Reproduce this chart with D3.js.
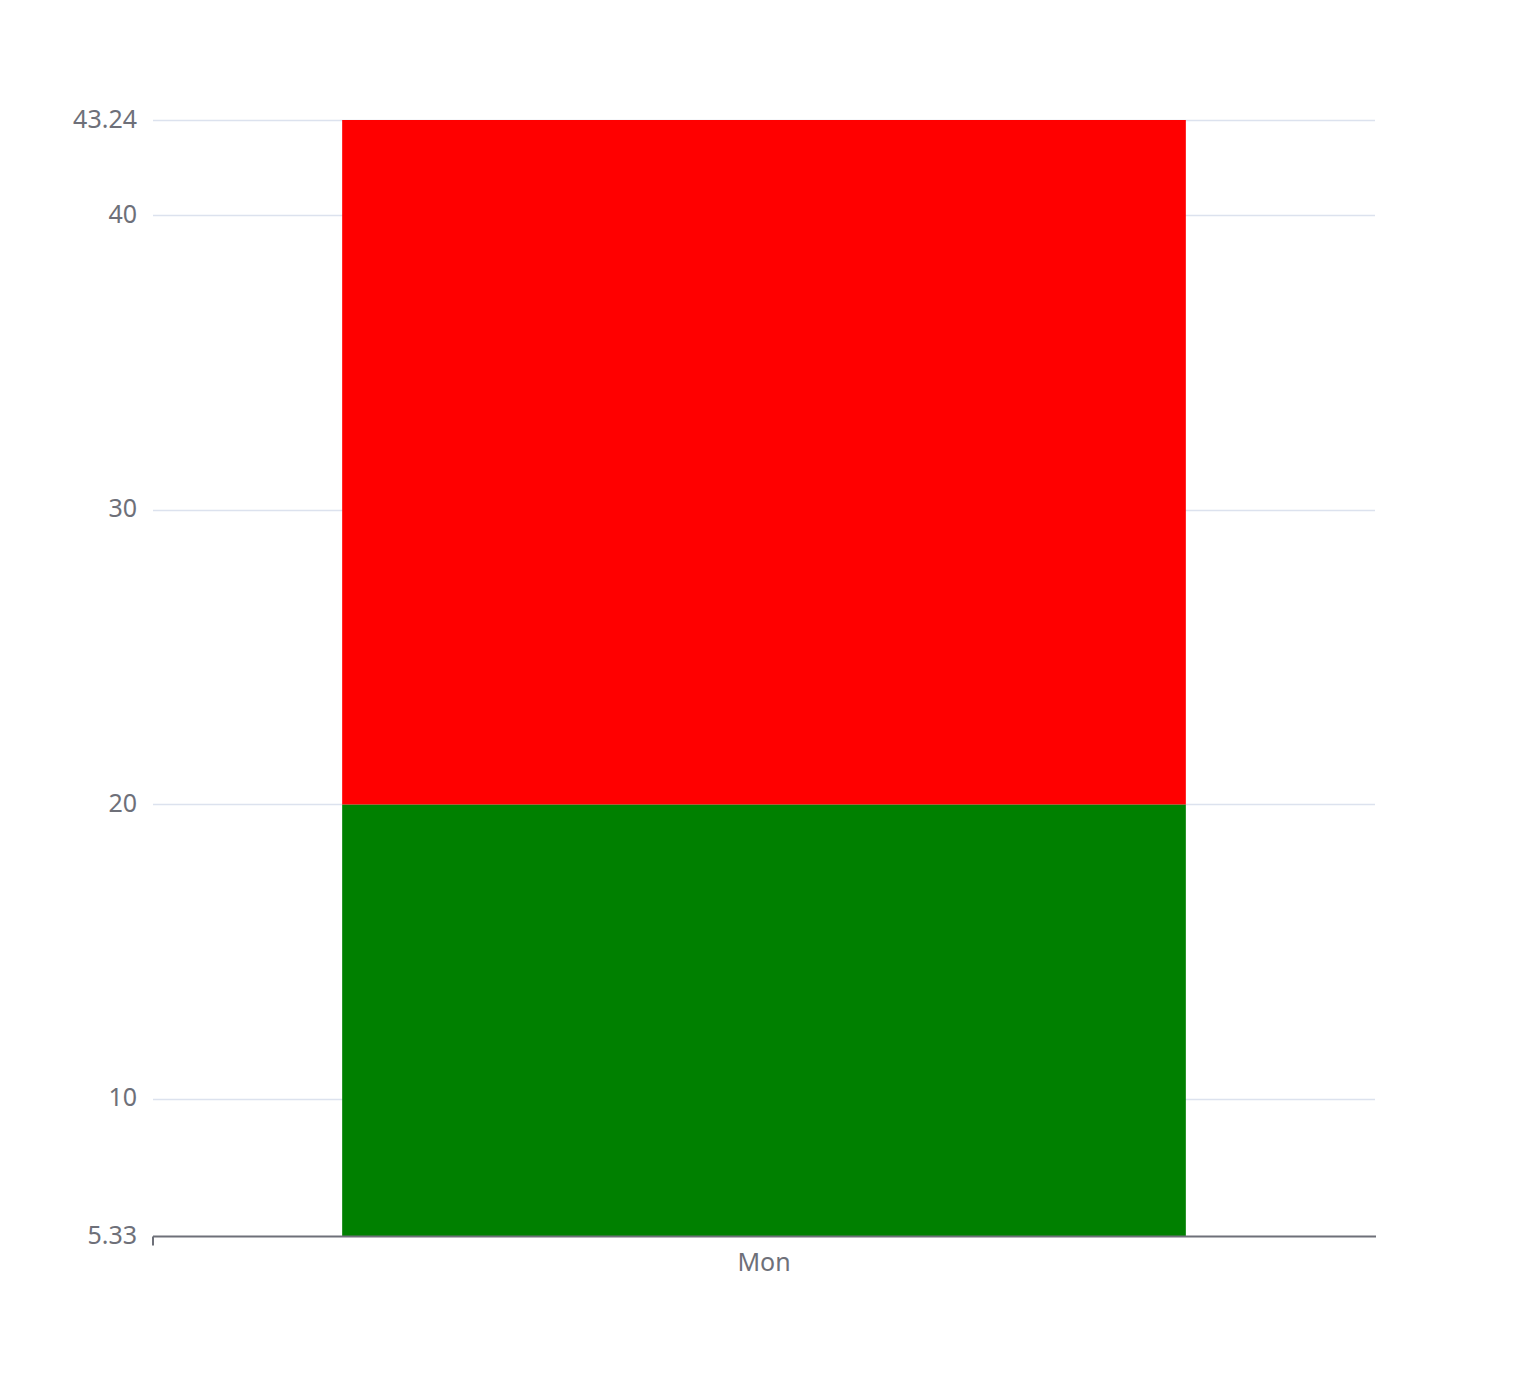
<!DOCTYPE html>
<html>
<head>
<meta charset="utf-8">
<script src="https://cdn.jsdelivr.net/npm/d3@7"></script>
<style>
  html, body { margin: 0; padding: 0; background: #ffffff; }
  svg { display: block; }
  text { font-family: "Noto Sans", "DejaVu Sans", sans-serif; }
</style>
</head>
<body>
<div id="chart"></div>
<script>
// ---- data ----
const categories = ["Mon"];
const seriesGreen = [20];
const seriesRed = [23.24];
const yTickValues = [5.33, 10, 20, 30, 40, 43.24];
const yMin = 5.33;
const yMax = 43.24;

// ---- layout ----
const W = 1528, H = 1376;
const margin = { left: 153, right: 153, top: 120, bottom: 139.5 };
const barRatio = 0.6904;

const svg = d3.select("#chart").append("svg")
  .attr("width", W).attr("height", H);

const x = d3.scaleBand().domain(categories)
  .range([margin.left, W - margin.right]).padding(0);
const y = d3.scaleLinear().domain([yMin, yMax])
  .range([H - margin.bottom, margin.top]);

// grid lines
svg.append("g").selectAll("line")
  .data(yTickValues.filter(v => v !== yMin))
  .join("line")
  .attr("x1", margin.left).attr("x2", W - margin.right)
  .attr("y1", d => Math.round(y(d)) + 0.5)
  .attr("y2", d => Math.round(y(d)) + 0.5)
  .attr("stroke", "#DCE2EE").attr("stroke-width", 1.6);

// stacked data
const stackData = categories.map((c, i) => ({ cat: c, green: seriesGreen[i], red: seriesRed[i] }));
const stack = d3.stack().keys(["green", "red"])(stackData);
const colors = { green: "#008000", red: "#ff0000" };

const bw = x.bandwidth() * barRatio;
svg.append("g").selectAll("g")
  .data(stack).join("g")
  .attr("fill", d => colors[d.key])
  .selectAll("rect")
  .data(d => d).join("rect")
  .attr("x", d => x(d.data.cat) + (x.bandwidth() - bw) / 2)
  .attr("width", bw)
  .attr("y", d => y(Math.min(d[1], yMax)))
  .attr("height", d => y(Math.max(d[0], yMin)) - y(Math.min(d[1], yMax)));

// y axis labels
svg.append("g").selectAll("text")
  .data(yTickValues).join("text")
  .attr("x", margin.left - 16)
  .attr("y", d => y(d) - 2.5)
  .attr("text-anchor", "end")
  .attr("dominant-baseline", "central")
  .attr("font-size", 25)
  .attr("fill", "#6E7079")
  .text(d => d);

// x axis
const xAxisY = y(yMin);
const xg = svg.append("g").attr("transform", `translate(0,${xAxisY})`);
const xAxis = d3.axisBottom(x).tickSize(0).tickPadding(0);
xg.call(xAxis);
xg.select(".domain").remove();
xg.append("line")
  .attr("x1", margin.left).attr("x2", W - margin.right + 1)
  .attr("y1", 0).attr("y2", 0)
  .attr("stroke", "#6E7079").attr("stroke-width", 2);
xg.append("line")
  .attr("x1", margin.left).attr("x2", margin.left)
  .attr("y1", 0).attr("y2", 9)
  .attr("stroke", "#6E7079").attr("stroke-width", 2);
xg.selectAll(".tick text")
  .attr("font-size", 25)
  .attr("fill", "#6E7079")
  .attr("font-family", "\"Noto Sans\", \"DejaVu Sans\", sans-serif")
  .attr("dy", null)
  .attr("y", 24)
  .attr("dominant-baseline", "central");
</script>
</body>
</html>
